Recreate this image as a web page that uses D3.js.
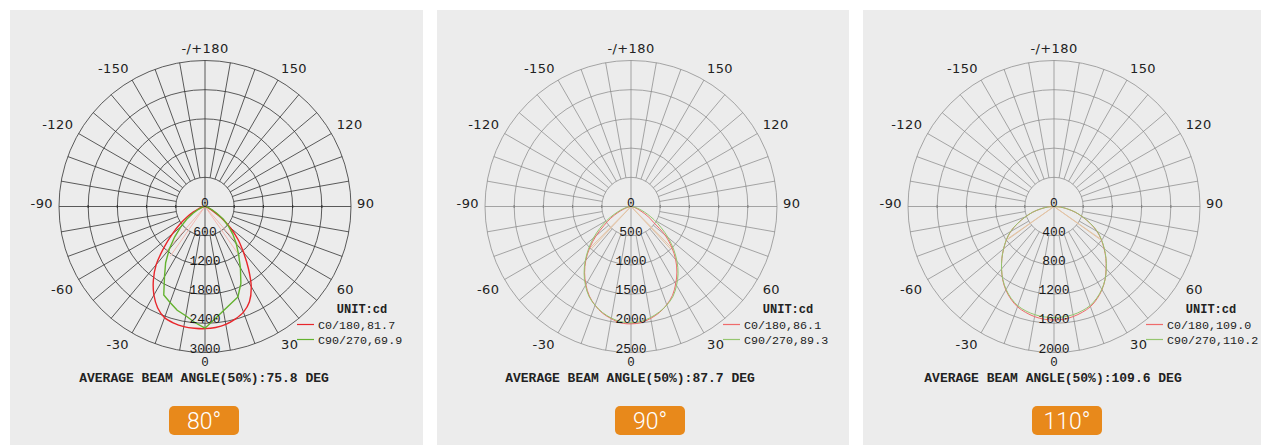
<!DOCTYPE html>
<html>
<head>
<meta charset="utf-8">
<script src="https://cdn.jsdelivr.net/npm/d3@7/dist/d3.min.js"></script>
<style>
  body { margin: 0; background: #fff; }
  svg { display: block; }
</style>
</head>
<body>
<div id="chart"></div>
<script>
// polar angles (deg) used for every intensity series
var angles = [0, 5, 10, 15, 20, 25, 30, 35, 40, 45, 50, 55, 60, 65, 70, 75, 80, 85, 90];

// 80° lens (cd)
var p1C0   = [2510, 2495, 2460, 2395, 2310, 2160, 1900, 1555, 1230, 960, 680, 420, 200, 100, 50, 25, 10, 5, 0];
var p1C180 = [2510, 2510, 2505, 2480, 2430, 2300, 2100, 1850, 1560, 1190, 880, 620, 420, 260, 150, 80, 40, 15, 0];
var p1C90  = [2500, 2320, 2177, 2065, 1978, 1745, 1455, 1205, 1000, 810, 633, 460, 277, 160, 90, 50, 20, 10, 0];
var p1C270 = [2500, 2393, 2280, 2207, 2099, 2005, 1665, 1410, 1140, 880, 650, 460, 290, 170, 95, 50, 20, 10, 0];

// 90° lens (cd)
var p2C0   = [2010, 1995, 1945, 1880, 1790, 1680, 1530, 1370, 1190, 985, 760, 470, 330, 190, 110, 60, 30, 10, 0];
var p2C180 = [2010, 2000, 1950, 1890, 1800, 1690, 1545, 1385, 1205, 1000, 780, 560, 400, 250, 140, 70, 30, 10, 0];
var p2C90  = [1990, 1975, 1930, 1870, 1795, 1700, 1560, 1405, 1225, 1030, 830, 630, 460, 310, 195, 110, 50, 20, 0];
var p2C270 = [1990, 1980, 1940, 1880, 1800, 1700, 1560, 1400, 1220, 1030, 840, 650, 480, 320, 200, 115, 55, 20, 0];

// 110° lens (cd)
var p3C0   = [1555, 1550, 1530, 1500, 1460, 1395, 1315, 1220, 1110, 1005, 895, 790, 680, 548, 415, 300, 180, 85, 0];
var p3C180 = [1555, 1550, 1532, 1502, 1462, 1398, 1320, 1225, 1118, 1010, 900, 795, 685, 550, 418, 302, 182, 86, 0];
var p3C90  = [1520, 1518, 1505, 1480, 1445, 1385, 1310, 1220, 1115, 1008, 900, 795, 685, 552, 420, 305, 185, 88, 0];
var p3C270 = [1520, 1518, 1505, 1482, 1447, 1388, 1312, 1222, 1118, 1010, 902, 798, 688, 553, 420, 305, 185, 88, 0];

var maxCd = [3000, 2500, 2000];
var beamC0 = [81.7, 86.1, 109.0];
var beamC90 = [69.9, 89.3, 110.2];
var avgBeam = [75.8, 87.7, 109.6];
var badgeLabels = ["80°", "90°", "110°"];
var angleTicks = [-150, -120, -90, -60, -30, 30, 60, 90, 120, 150];

var W = 1261, H = 445;
var R = 146;
var cy = 206.5;
var mono = "'Liberation Mono', 'Courier New', monospace";
var sans = "'DejaVu Sans', Verdana, sans-serif";

var panels = [
  { x: 10, w: 413, cx: 205, bx: 204, series: [p1C0, p1C180, p1C90, p1C270], bold: true },
  { x: 437, w: 412, cx: 631, bx: 650, series: [p2C0, p2C180, p2C90, p2C270], bold: false },
  { x: 863, w: 398, cx: 1054, bx: 1067, series: [p3C0, p3C180, p3C90, p3C270], bold: false }
];

var svg = d3.select("#chart").append("svg")
  .attr("width", W)
  .attr("height", H);

var rad = function(a) { return a * Math.PI / 180; };

panels.forEach(function(p, k) {
  // panel background
  svg.append("rect")
    .attr("x", p.x).attr("y", 10)
    .attr("width", p.w).attr("height", H - 10)
    .attr("fill", "#ececec");

  var g = svg.append("g").attr("transform", "translate(" + p.cx + "," + cy + ")");
  var r = d3.scaleLinear().domain([0, maxCd[k]]).range([0, R]);
  var step = maxCd[k] / 5;
  var ringVals = d3.range(1, 6).map(function(i) { return i * step; });
  var gridColor = p.bold ? "#333" : "#848484";
  var gridW = p.bold ? 0.8 : 0.7;

  // concentric rings
  g.selectAll(".ring").data(ringVals).enter().append("circle")
    .attr("r", function(d) { return r(d); })
    .attr("fill", "none")
    .attr("stroke", gridColor)
    .attr("stroke-width", gridW);

  // radial lines every 10 deg, starting at first ring (main axes go through centre)
  var spokes = d3.range(-180, 180, 10);
  g.selectAll(".spoke").data(spokes).enter().append("line")
    .attr("x1", function(d) { var r0 = d % 90 === 0 ? 0 : r(step); return r0 * Math.sin(rad(d)); })
    .attr("y1", function(d) { var r0 = d % 90 === 0 ? 0 : r(step); return r0 * Math.cos(rad(d)); })
    .attr("x2", function(d) { return R * Math.sin(rad(d)); })
    .attr("y2", function(d) { return R * Math.cos(rad(d)); })
    .attr("stroke", gridColor)
    .attr("stroke-width", gridW);

  // small ticks where rings cross the horizontal axis
  var tickPos = ringVals.slice(0, 4).map(function(d) { return r(d); });
  tickPos = tickPos.concat(tickPos.map(function(d) { return -d; }));
  g.selectAll(".htick").data(tickPos).enter().append("line")
    .attr("x1", function(d) { return d; }).attr("x2", function(d) { return d; })
    .attr("y1", -1.5).attr("y2", 1.5)
    .attr("stroke", gridColor).attr("stroke-width", 1.2);

  // angle labels
  var LR = 152;
  g.selectAll(".alab").data(angleTicks).enter().append("text")
    .attr("x", function(d) { return LR * Math.sin(rad(d)); })
    .attr("y", function(d) {
      var py = LR * Math.cos(rad(d));
      var off = Math.abs(d) === 90 ? -3.5 : (py > 0 ? 6.5 : -6.5);
      return py + off + 4.6;
    })
    .attr("text-anchor", function(d) { return d < 0 ? "end" : "start"; })
    .attr("font-family", sans).attr("font-size", 13)
    .attr("letter-spacing", 0.4)
    .attr("fill", "#222")
    .text(function(d) { return d; });

  g.append("text")
    .attr("x", 0).attr("y", -LR - 6.5 + 4.6)
    .attr("text-anchor", "middle")
    .attr("font-family", sans).attr("font-size", 13)
    .attr("letter-spacing", 0.4)
    .attr("fill", "#222")
    .text("-/+180");

  g.append("text")
    .attr("x", 0).attr("y", 159)
    .attr("text-anchor", "middle")
    .attr("font-family", mono).attr("font-size", 12.5)
    .attr("fill", "#222")
    .text("0");

  // faint half-beam lines
  var faint = p.bold ? "#f3b9b2" : "#e3c4a6";
  var s = p.series;
  var halfLines = [
    { a: beamC0[k] / 2, v: s[0][0] / 2 },
    { a: -beamC0[k] / 2, v: s[1][0] / 2 },
    { a: beamC90[k] / 2, v: s[2][0] / 2 },
    { a: -beamC90[k] / 2, v: s[3][0] / 2 }
  ];
  g.selectAll(".half").data(halfLines).enter().append("line")
    .attr("x1", 0).attr("y1", 0)
    .attr("x2", function(d) { return r(d.v) * Math.sin(rad(d.a)); })
    .attr("y2", function(d) { return r(d.v) * Math.cos(rad(d.a)); })
    .attr("stroke", faint)
    .attr("stroke-width", 1);

  // intensity curves
  function pts(right, left) {
    var out = [];
    for (var i = angles.length - 1; i > 0; i--) out.push({ a: -angles[i], v: left[i] });
    for (var j = 0; j < angles.length; j++) out.push({ a: angles[j], v: right[j] });
    return out;
  }
  var redC = p.bold ? "#e8262b" : "#ef6b6b";
  var greenC = p.bold ? "#63b22e" : "#95c66f";
  var lw = p.bold ? 1.4 : 1;

  var line = d3.lineRadial()
    .angle(function(d) { return Math.PI - rad(d.a); })
    .radius(function(d) { return r(d.v); });

  g.append("path")
    .attr("d", line.curve(d3.curveCatmullRom)(pts(s[0], s[1])))
    .attr("fill", "none").attr("stroke", redC).attr("stroke-width", lw);
  g.append("path")
    .attr("d", line.curve(p.bold ? d3.curveLinear : d3.curveCatmullRom)(pts(s[2], s[3])))
    .attr("fill", "none").attr("stroke", greenC).attr("stroke-width", lw);

  // ring value labels along the 0 deg direction
  g.selectAll(".rlab").data([0].concat(ringVals)).enter().append("text")
    .attr("x", 0)
    .attr("y", function(d) { return r(d); })
    .attr("text-anchor", "middle")
    .attr("font-family", mono).attr("font-size", 13)
    .attr("fill", "#1a1a1a")
    .text(function(d) { return d; });

  // legend
  g.append("text")
    .attr("x", 157).attr("y", 106)
    .attr("text-anchor", "middle")
    .attr("font-family", mono).attr("font-size", 12).attr("font-weight", "bold")
    .attr("fill", "#222")
    .text("UNIT:cd");

  var legend = [
    { c: redC, t: "C0/180," + beamC0[k].toFixed(1) },
    { c: greenC, t: "C90/270," + beamC90[k].toFixed(1) }
  ];
  legend.forEach(function(d, i) {
    var ly = 118 + i * 15;
    g.append("line")
      .attr("x1", 92).attr("x2", 109)
      .attr("y1", ly).attr("y2", ly)
      .attr("stroke", d.c).attr("stroke-width", 1.2);
    g.append("text")
      .attr("x", 113).attr("y", ly + 4)
      .attr("font-family", mono).attr("font-size", 11.7)
      .attr("fill", "#222")
      .text(d.t);
  });

  // average beam angle
  g.append("text")
    .attr("x", -1).attr("y", 175)
    .attr("text-anchor", "middle")
    .attr("font-family", mono).attr("font-size", 13).attr("font-weight", "bold")
    .attr("fill", "#222")
    .text("AVERAGE BEAM ANGLE(50%):" + avgBeam[k].toFixed(1) + " DEG");

  // badge
  svg.append("rect")
    .attr("x", p.bx - 35).attr("y", 406)
    .attr("width", 70).attr("height", 29)
    .attr("rx", 5)
    .attr("fill", "#e8891b");
  svg.append("text")
    .attr("x", p.bx).attr("y", 429)
    .attr("text-anchor", "middle")
    .attr("font-family", "Roboto, 'Open Sans', sans-serif")
    .attr("font-weight", 300)
    .attr("font-size", 23)
    .attr("fill", "#fff")
    .text(badgeLabels[k]);
});
</script>
</body>
</html>
